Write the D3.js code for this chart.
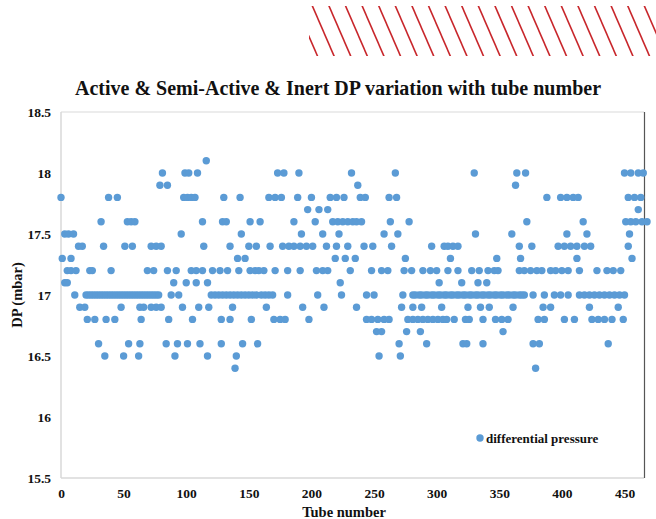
<!DOCTYPE html>
<html><head><meta charset="utf-8">
<script src="https://cdn.jsdelivr.net/npm/d3@7"></script>
<style>body{margin:0;background:#fff}svg{display:block}</style>
</head><body>
<script>
// ---- data: tube numbers observed at each DP level (mbar) ----
const tubes_18_1 = [116];
const tubes_18_0 = [81, 99, 102, 109, 173, 178, 190, 232, 267, 330, 364, 371, 450, 455, 461, 465];
const tubes_17_9 = [79, 85, 237, 363];
const tubes_17_8 = [0, 38, 45, 98, 101, 104, 107, 130, 143, 166, 171, 176, 189, 200, 215, 220, 226, 239, 243, 262, 268, 388, 399, 404, 409, 413, 453, 458, 463];
const tubes_17_7 = [197, 206, 213, 461];
const tubes_17_6 = [32, 53, 56, 59, 113, 129, 132, 151, 159, 186, 203, 217, 221, 225, 229, 233, 236, 240, 263, 278, 372, 417, 451, 455, 459, 464, 468];
const tubes_17_5 = [3, 6, 10, 96, 144, 192, 209, 222, 258, 269, 331, 360, 404, 420, 454];
const tubes_17_4 = [14, 17, 34, 51, 57, 72, 76, 80, 114, 135, 150, 156, 167, 177, 182, 186, 191, 196, 201, 212, 220, 229, 242, 249, 264, 296, 306, 309, 313, 317, 366, 376, 397, 402, 407, 412, 418, 423, 453];
const tubes_17_3 = [1, 8, 141, 147, 219, 227, 235, 275, 311, 348, 367, 412, 456];
const tubes_17_2 = [5, 8, 12, 23, 25, 40, 69, 74, 85, 92, 104, 108, 113, 121, 127, 133, 142, 151, 155, 158, 162, 171, 181, 191, 204, 209, 213, 231, 248, 256, 261, 274, 280, 289, 295, 300, 309, 317, 328, 334, 341, 346, 349, 366, 370, 375, 380, 384, 391, 395, 400, 405, 414, 428, 436, 441, 447];
const tubes_17_1 = [3, 5, 90, 100, 108, 117, 223, 302, 320, 333, 340];
const tubes_17_0 = [11, 20, 22, 24, 26, 28, 30, 32, 34, 36, 38, 40, 42, 44, 46, 48, 50, 52, 54, 56, 58, 60, 62, 64, 66, 68, 70, 72, 74, 76, 78, 88, 94,
  120, 123, 126, 129, 132, 135, 138, 141, 144, 147, 150, 153, 156, 160, 163, 166, 169, 181, 205, 224, 244, 250, 273,
  281, 283, 286, 288, 291, 293, 296, 298, 301, 303, 306, 308, 311, 313, 316, 318, 321, 323, 326, 328, 331, 333, 336, 338,
  341, 343, 346, 348, 351, 353, 356, 358, 361, 363, 366, 368, 370, 377, 386, 394, 399, 405,
  414, 418, 422, 426, 430, 434, 438, 442, 446, 450];
const tubes_16_9 = [15, 19, 48, 63, 66, 72, 76, 80, 97, 110, 118, 137, 164, 193, 210, 236, 272, 281, 288, 304, 325, 335, 342, 361, 385, 391, 422, 445];
const tubes_16_8 = [21, 27, 36, 43, 64, 86, 105, 128, 135, 152, 170, 175, 179, 198, 244, 248, 253, 258, 262, 277, 281, 285, 289, 293, 297, 301, 305, 308, 314, 323, 326, 337, 347, 352, 357, 381, 386, 402, 410, 424, 429, 434, 440, 449];
const tubes_16_7 = [252, 256, 276, 287, 353];
const tubes_16_6 = [30, 54, 63, 84, 93, 101, 111, 128, 145, 157, 270, 292, 321, 324, 337, 377, 382, 437];
const tubes_16_5 = [35, 50, 62, 91, 117, 140, 254, 271];
const tubes_16_4 = [139, 379];

const dpLevels   = [18.1, 18.0, 17.9, 17.8, 17.7, 17.6, 17.5, 17.4, 17.3, 17.2, 17.1, 17.0, 16.9, 16.8, 16.7, 16.6, 16.5, 16.4];
const tubeLists  = [tubes_18_1, tubes_18_0, tubes_17_9, tubes_17_8, tubes_17_7, tubes_17_6, tubes_17_5, tubes_17_4, tubes_17_3,
                    tubes_17_2, tubes_17_1, tubes_17_0, tubes_16_9, tubes_16_8, tubes_16_7, tubes_16_6, tubes_16_5, tubes_16_4];

const xTicks = [0, 50, 100, 150, 200, 250, 300, 350, 400, 450];
const yTicks = [15.5, 16, 16.5, 17, 17.5, 18, 18.5];
const titleText = "Active & Semi-Active & Inert DP variation with tube number";
const xLabel = "Tube number";
const yLabel = "DP (mbar)";
const legendLabel = "differential pressure";

// ---- drawing ----
const W = 656, H = 519;
const FONT = "'Liberation Serif','Times New Roman',serif";
const BLUE = "#5b9bd5";

const points = [];
dpLevels.forEach((v, i) => tubeLists[i].forEach(t => points.push({tube: t, dp: v})));

const svg = d3.select("body").append("svg").attr("width", W).attr("height", H);
svg.append("rect").attr("width", W).attr("height", H).attr("fill", "#fff");

const x = d3.scaleLinear().domain([0, 450]).range([61, 624.5]);
const y = d3.scaleLinear().domain([15.5, 18.5]).range([478, 112]);

// hatched decoration top right
const hatch = svg.append("g");
hatch.append("clipPath").attr("id", "hclip").append("rect")
  .attr("x", 309).attr("y", 6).attr("width", W - 309).attr("height", 50);
const hg = hatch.append("g").attr("clip-path", "url(#hclip)");
d3.range(260, 680, 16.6).forEach(x0 => {
  hg.append("line").attr("x1", x0).attr("y1", 0).attr("x2", x0 + 26).attr("y2", 60)
    .attr("stroke", "#c8262b").attr("stroke-width", 1.6);
});

// title
svg.append("text").attr("x", 338).attr("y", 95).attr("text-anchor", "middle")
  .attr("font-family", FONT).attr("font-weight", "bold").attr("font-size", 20)
  .attr("fill", "#111").text(titleText);

// frame
const fr = svg.append("g");
fr.append("line").attr("x1", 61).attr("x2", 644).attr("y1", 112).attr("y2", 112).attr("stroke", "#d9d9d9").attr("stroke-width", 1);
fr.append("line").attr("x1", 61).attr("x2", 644).attr("y1", 478).attr("y2", 478).attr("stroke", "#d9d9d9").attr("stroke-width", 1.5);
fr.append("line").attr("x1", 61).attr("x2", 61).attr("y1", 112).attr("y2", 478).attr("stroke", "#d9d9d9").attr("stroke-width", 1.5);
fr.append("line").attr("x1", 644.5).attr("x2", 644.5).attr("y1", 112).attr("y2", 478).attr("stroke", "#555").attr("stroke-width", 1.2);

// axes (labels only)
const xAxis = svg.append("g").attr("transform", "translate(0,478)")
  .call(d3.axisBottom(x).tickValues(xTicks).tickSize(0).tickPadding(10).tickFormat(d3.format("d")));
const yAxis = svg.append("g").attr("transform", "translate(61,0)")
  .call(d3.axisLeft(y).tickValues(yTicks).tickSize(0).tickPadding(10).tickFormat(d => String(d)));
[xAxis, yAxis].forEach(a => {
  a.select(".domain").remove();
  a.selectAll("text").attr("font-family", FONT).attr("font-weight", "bold").attr("font-size", 13.5).attr("fill", "#111");
});

// axis titles
svg.append("text").attr("x", 344).attr("y", 517).attr("text-anchor", "middle")
  .attr("font-family", FONT).attr("font-weight", "bold").attr("font-size", 14.5).attr("fill", "#111").text(xLabel);
svg.append("text").attr("transform", "translate(22,295) rotate(-90)").attr("text-anchor", "middle")
  .attr("font-family", FONT).attr("font-weight", "bold").attr("font-size", 14.5).attr("fill", "#111").text(yLabel);

// points
svg.append("g").selectAll("circle").data(points).join("circle")
  .attr("cx", d => x(d.tube)).attr("cy", d => y(d.dp)).attr("r", 3.7).attr("fill", BLUE);

// legend
svg.append("circle").attr("cx", 480).attr("cy", 438).attr("r", 3.7).attr("fill", BLUE);
svg.append("text").attr("x", 486).attr("y", 442.5).attr("font-family", FONT).attr("font-weight", "bold")
  .attr("font-size", 13).attr("fill", "#111").text(legendLabel);
</script>
</body></html>
